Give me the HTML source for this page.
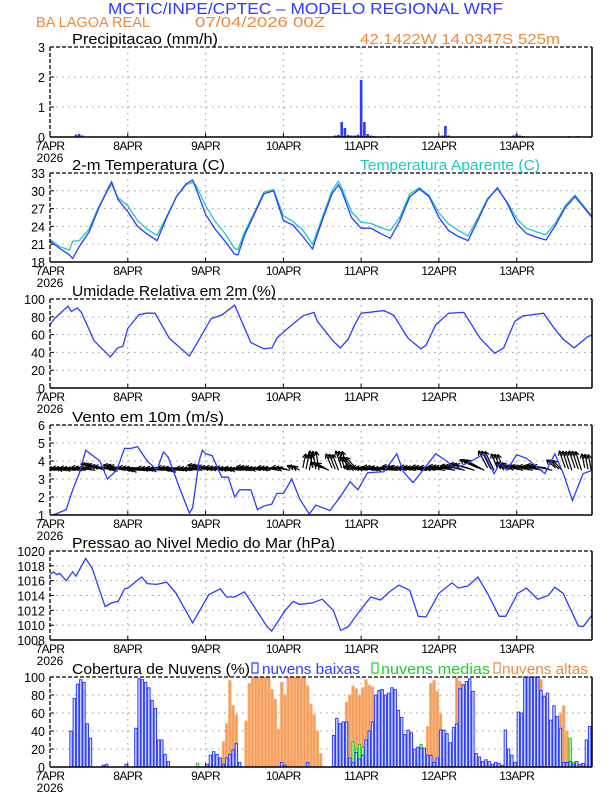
<!DOCTYPE html>
<html><head><meta charset="utf-8"><style>
html,body{margin:0;padding:0;background:#fff}
svg{display:block}
text{font-family:"Liberation Sans",sans-serif}
</style></head><body>
<svg id="chart" width="612" height="792" viewBox="0 0 612 792" xmlns="http://www.w3.org/2000/svg">
<text x="108" y="14" fill="#2b3bff" font-size="16" textLength="395" lengthAdjust="spacingAndGlyphs">MCTIC/INPE/CPTEC – MODELO REGIONAL WRF</text>
<text x="36" y="27" fill="#f0883c" font-size="15" textLength="114" lengthAdjust="spacingAndGlyphs">BA LAGOA REAL</text>
<text x="195" y="27" fill="#f0883c" font-size="15" textLength="130" lengthAdjust="spacingAndGlyphs">07/04/2026 00Z</text>
<text x="360" y="44" fill="#f0883c" font-size="15" textLength="200" lengthAdjust="spacingAndGlyphs">42.1422W 14.0347S 525m</text>
<g id="plots"></g>
</svg>
<script>
// ---------- DATA ----------
const dayLabels = ["7APR","8APR","9APR","10APR","11APR","12APR","13APR"];
const precipHours = [8,9,10,23,33,45,88,89,90,91,92,93,94,95,96,97,98,99,100,104,105,121,122,123,143,144,145,146,160,163];
const precipVals  = [0.08,0.1,0.05,0.02,0.02,0.02,0.05,0.07,0.5,0.3,0.07,0.05,0.05,0.08,1.9,0.5,0.1,0.05,0.03,0.03,0.02,0.05,0.37,0.05,0.05,0.1,0.05,0.03,0.03,0.03];
const tempHours = [0,3,6,7,9,12,15,18,19,21,24,27,30,33,36,39,42,44,45,48,51,54,57,58,60,63,66,69,72,75,78,81,84,87,89,90,93,96,99,102,105,108,111,114,117,120,123,126,129,132,135,138,141,144,147,150,153,156,159,162,165,168];
const tempVals = [21.5,20.3,19.2,18.6,20.6,23,27,30.5,31.5,28.5,26.5,24,22.7,21.6,25.5,29,31.2,31.8,30.5,26,23.5,21.5,19.3,19.2,22.5,26,29.5,30,25,24.2,22.3,20.2,25,29.5,31,30,25.5,23.7,23.7,22.8,22,25,29,30.3,29,25.5,23.3,22.3,21.6,25,28.5,30.5,28,24.5,22.8,22.2,21.7,24.2,27.2,29,27,25];
const appTempVals = [21.8,20.6,20,21.5,21.6,23.5,27.3,30.2,31.1,28.8,27.5,25,23.5,22.5,25.7,29,31,31.4,31,27.5,24.8,22.8,20.3,20.1,23,26.3,29.8,30.2,25.8,24.8,23.4,21,25.5,30,31.6,30.5,26.5,24.7,24.5,23.8,23.3,25.6,29.5,30.5,29.2,26.3,24.4,23.3,22.4,25.4,28.7,30.3,28.2,25.3,23.7,23.1,22.6,24.6,27.5,29.3,27.2,25.2];
const rhHours = [0,1.4,5.6,6.6,8.4,9.7,13.6,18.6,20.9,22.5,24,27.4,29.6,32.4,36.8,43,45.8,49.7,53,57,62,66,68.5,70,72.7,78,81.5,82.5,87.3,89.6,92,94,96,103,106,110.5,114.4,116,119,123,127.7,132.7,137.2,140,143.4,146,152.3,155.6,158.3,161.7,166,168];
const rhVals = [71,78,92,86,90,85,53,35,45,47,67,82,84,84,56,36,53,78,82,93,51,44,45,56,65,81,85,75,53,45,55,71,84,87,82,56,44,48,71,84,85,56,39,45,75,81,84,67,55,45,58,60];
const windHours = [1,5,7,9,11,15.4,17.7,20.6,23,25,27,30,33,35,36.5,40,43,44,46,47,48,50,53,55,57,58.5,60,62,64,66,68.4,70,72,74.6,77,80,82,86.4,89.5,92.6,95,98,103,107,109,112,116,119,122,125,129,134,137,139,141,144,147,152.7,155.8,158.4,161.2,164.5,167.5];
const windVals = [1.0,1.3,2.4,3.3,4.6,4.0,3.0,3.5,4.7,4.7,4.8,4.0,3.5,4.5,4.2,2.5,1.1,1.4,4.0,4.6,4.4,4.3,3.1,3.1,2.0,2.4,2.4,2.4,1.3,1.5,1.6,2.2,2.2,3.0,1.9,1.05,1.55,1.25,2.0,2.85,2.4,3.35,3.4,4.4,3.4,2.8,3.7,4.4,4.05,3.6,3.9,4.4,3.3,3.9,3.5,4.35,4.15,3.3,4.4,3.3,1.8,3.3,3.5];
const vecU = [-3,-3.2,-3,-3.3,-3,-3,-3.5,-2.5,-3.5,-3.2,-3.6,-3.3,-3.5,-3.2,-3.5,-3.3,-3,-3,-3.3,-3.2,-3.4,-3,-3.2,-2.8,-2,-1,0.5,-0.5,-2,-1,-1,-2,-3,-3.2,-3,-3.3,-3,-3.2,-3.3,-3,-3.2,-3.4,-3,-3.2,-3,-1.5,-1,-2,-3,-3.2,-3,-3.3,-1.5,-1,-1,-0.5];
const vecV = [0.1,0.2,0.1,0.1,0.2,0.8,0.5,0.6,0.1,0.2,-0.1,0.1,0,0.2,-0.1,0.1,0.6,0.3,0.2,0.1,0,0.3,0.1,0.2,0.2,0.5,2.5,3,1,2.5,3,2,0.3,0.2,0.3,0.1,0.4,0.2,0.3,0.3,0.2,0.4,0.5,0.8,1.5,3,2.5,1,0.5,0.5,0.4,0.6,1.5,3,3,2.5];
const presHours = [0,1,2.2,3,5,7,8,11,13,17,19,21,23,24,28.3,30,32.9,36,38.9,44,49,52.5,54.5,57,60,67,68.4,72.6,75,77,81,84,87.4,89.7,92,95.7,99,102,104.5,107.6,111,113.6,116,120,124,126,129,132,135,138.6,140.6,144.3,147,150.5,153.7,155.8,158.3,163,164.5,167.5];
const presVals = [1016.8,1017.2,1016.8,1017,1016,1017.2,1016.6,1019,1017.7,1012.5,1013,1013.2,1014.9,1015,1016.5,1015.6,1015.5,1015.8,1014.3,1010.3,1014.1,1014.9,1013.8,1013.8,1014.5,1009.8,1009.2,1012,1013.2,1012.8,1013,1013.5,1012,1009.3,1009.8,1012,1013.8,1013.4,1014.4,1015.4,1014.7,1011.2,1011.1,1014.3,1015.7,1015,1015.3,1016.5,1014.3,1011.2,1011.2,1014.3,1015,1013.5,1014,1015.1,1014.3,1009.9,1009.8,1011.5];
function hourly(pairs){const a=new Array(168).fill(0);for(const k in pairs)a[+k]=pairs[k];return a;}
const cloudLow = hourly({6:40,7:76,8:92,9:97,10:94,11:48,12:32,16:2,17:3,23:3,26:43,27:98,28:97,29:94,30:88,31:74,32:65,33:30,34:30,35:14,36:6,48:3,49:13,50:17,51:14,52:10,53:3,54:10,55:14,56:19,57:26,58:5,71:5,72:2,79:5,87:35,88:54,89:48,90:50,91:50,92:10,93:5,94:16,95:9,96:13,97:30,98:40,99:50,100:80,101:85,102:86,103:80,104:82,105:88,106:86,107:63,108:55,109:36,110:41,111:38,112:20,113:22,114:21,115:21,116:13,117:13,118:5,119:10,120:41,121:41,122:37,123:27,124:44,125:48,126:87,127:91,128:95,129:98,130:84,131:15,132:11,133:6,134:8,135:6,136:3,137:5,138:4,139:2,140:41,141:20,142:13,143:5,144:61,145:60,146:100,147:100,148:100,149:100,150:100,151:85,152:78,153:82,154:52,155:68,156:56,157:43,158:5,159:5,160:6,161:3,162:6,163:3,164:4,165:30,166:45,167:45});
const cloudMid = hourly({45:4,88:47,89:48,90:50,91:50,93:28,94:20,95:25,96:22,97:5,100:12,106:3,113:10,114:25,116:5,121:10,159:5,160:32,161:5});
const cloudHigh = hourly({53:28,54:48,55:96,56:68,57:58,58:5,60:51,61:93,62:100,63:100,64:100,65:100,66:100,67:100,68:86,69:75,70:42,71:94,72:80,73:100,74:100,75:100,76:100,77:100,78:100,79:90,80:70,81:58,82:40,83:15,89:14,90:20,91:72,92:80,93:90,94:87,95:80,96:88,97:97,98:91,99:89,100:80,101:58,102:30,103:27,104:10,116:45,117:93,118:96,119:84,120:60,121:28,125:100,126:95,127:92,128:80,129:40,150:97,151:97,152:80,153:65,154:45,155:35,156:45,157:60,158:68,159:40,160:12});

// ---------- DRAWING ----------
const NS="http://www.w3.org/2000/svg";
const root=document.getElementById('plots');
const X0=50,X1=592,PXH=3.241;
function xs(h){return X0+h*PXH;}
function mk(tag,attrs,parent){const e=document.createElementNS(NS,tag);for(const k in attrs)e.setAttribute(k,attrs[k]);(parent||root).appendChild(e);return e;}
const clip=mk('clipPath',{id:'cx'});mk('rect',{x:X0,y:0,width:X1-X0,height:792},clip);

function panel(name,top,bot,ticks,title,ymin,ymax,tlen){
  const g=mk('g',{});
  
  
  const ys=v=>bot-(v-ymin)/(ymax-ymin)*(bot-top);
  for(const t of ticks){
    const y=ys(t);
    if(t!==ymin&&t!==ymax){const gl=mk('line',{x1:X0,x2:X1,y1:y,y2:y,stroke:'#999','stroke-dasharray':'1.5,4.5','stroke-width':1},g);
    }
    const tl=mk('text',{x:45,y:y+5,'text-anchor':'end','font-size':12.5},g);tl.textContent=t;
    
    
    mk('line',{x1:X0,x2:X0+4,y1:y,y2:y,stroke:'#000'},g);
  }
  for(let d=0;d<dayLabels.length;d++){
    const x=xs(d*24);
    if(d>0){const gl=mk('line',{x1:x,x2:x,y1:top,y2:bot,stroke:'#999','stroke-dasharray':'1.5,4.5'},g);
    }
    mk('line',{x1:x,x2:x,y1:bot,y2:bot-4,stroke:'#000'},g);
    const tx=mk('text',{x:x,y:bot+13,'text-anchor':'middle','font-size':12,'letter-spacing':'-0.6'},g);tx.textContent=dayLabels[d];
    
    
  }
  const yr=mk('text',{x:X0,y:bot+25,'text-anchor':'middle','font-size':12},g);yr.textContent='2026';
  
  
  const tt=mk('text',{x:72,y:top-3,'font-size':14.5,textLength:tlen,lengthAdjust:'spacingAndGlyphs'},g);tt.textContent=title;
  
  
  const plot=mk('g',{'clip-path':'url(#cx)'},g);
  const frame=()=>{
    mk('line',{x1:X0,x2:X1,y1:top,y2:top,stroke:'#000','stroke-dasharray':'4,2','stroke-width':1.3},g);
    mk('line',{x1:X0,x2:X0,y1:top,y2:bot,stroke:'#000','stroke-dasharray':'4,2','stroke-width':1.3},g);
    mk('line',{x1:X1,x2:X1,y1:top,y2:bot,stroke:'#000','stroke-width':1.5},g);
    mk('line',{x1:X0,x2:X1,y1:bot,y2:bot,stroke:'#000','stroke-width':1.5},g);
  };
  return {g,plot,ys,frame};
}
function line(p,hours,vals,color,name){
  let d='';hours.forEach((h,i)=>{d+=(i?'L':'M')+xs(h).toFixed(1)+','+p.ys(vals[i]).toFixed(1);});
  const e=mk('path',{d,fill:'none',stroke:color,'stroke-width':1.3},p.plot);
  
  
}

// precipitation
const pp=panel('precip',47,137,[0,1,2,3],'Precipitacao (mm/h)',0,3,146);
precipHours.forEach((h,i)=>{
  const y=pp.ys(precipVals[i]);
  const b=mk('rect',{x:xs(h)-1.3,y:y,width:2.6,height:137-y,fill:'#2b3bff'},pp.plot);
  
  
});
pp.frame();

// temperature
const tp=panel('temperature',173,262,[18,21,24,27,30,33],'2-m Temperatura (C)',18,33,153);
line(tp,tempHours,appTempVals,'#1ec8c8','apparent-temperature-line');
line(tp,tempHours,tempVals,'#2b3bff','temperature-line');
tp.frame();
const at=mk('text',{x:360,y:170,'font-size':14.5,fill:'#1ec8c8',textLength:180,lengthAdjust:'spacingAndGlyphs'},tp.g);at.textContent='Temperatura Aparente (C)';



// humidity
const hp=panel('humidity',299,388,[0,20,40,60,80,100],'Umidade Relativa em 2m (%)',0,100,204);
line(hp,rhHours,rhVals,'#2b3bff','humidity-line');
hp.frame();

// wind
const wp=panel('wind',425,515,[1,2,3,4,5,6],'Vento em 10m (m/s)',1,6,152);
const wb=wp.ys(3.55);
vecU.forEach((u,i)=>{
  for(let s=0;s<3;s++){
    const h=i*3+s, x=xs(h), k=6;
    const jit=(s-1)*0.15;
    const x2=x+u*k, y2=wb+(s-1)*1.2-(vecV[i]+jit)*k;
    const y1=wb+(s-1)*1.2;
    const a=mk('line',{x1:x,y1:y1,x2:x2,y2:y2,stroke:'#000','stroke-width':1.2},wp.plot);
    
    
    const ang=Math.atan2(y2-y1,x2-x);
    for(const sg of [-0.5,0.5]){
      mk('line',{x1:x2,y1:y2,x2:x2-5*Math.cos(ang+sg),y2:y2-5*Math.sin(ang+sg),stroke:'#000','stroke-width':1.2},wp.plot);
    }
  }
});
line(wp,windHours,windVals,'#2b3bff','wind-speed-line');
wp.frame();

// pressure
const prp=panel('pressure',551,640,[1008,1010,1012,1014,1016,1018,1020],'Pressao ao Nivel Medio do Mar (hPa)',1008,1020,263);
line(prp,presHours,presVals,'#2b3bff','pressure-line');
prp.frame();

// clouds
const cp=panel('clouds',677,767,[0,20,40,60,80,100],'Cobertura de Nuvens (%)',0,100,178);
function bars(arr,fill,stroke,name){
  arr.forEach((v,h)=>{
    if(v<=0)return;
    const y=cp.ys(v);
    const b=mk('rect',{x:xs(h+0.5)-1.2,y:y,width:2.4,height:767-y,fill:fill,stroke:stroke,'stroke-width':1},cp.plot);
    
    
  });
}
bars(cloudHigh,'#f49a55','#f7b37c','high-cloud-bar');
bars(cloudMid,'#b8f0b0','#22cc22','mid-cloud-bar');
bars(cloudLow,'#d6dcff','#2b3bff','low-cloud-bar');
cp.frame();
const lg=[[252,'#2b3bff','nuvens baixas',262,98],[372,'#22cc22','nuvens medias',381,109],[494,'#f0883c','nuvens altas',502,86]];
for(const [rx,c,t,tx,tl] of lg){
  const r=mk('rect',{x:rx,y:663,width:6,height:10,fill:'none',stroke:c,'stroke-width':1.2},cp.g);
  
  
  const te=mk('text',{x:tx,y:674,'font-size':14.5,fill:c,textLength:tl,lengthAdjust:'spacingAndGlyphs'},cp.g);te.textContent=t;
  
  
}
</script>
</body></html>
